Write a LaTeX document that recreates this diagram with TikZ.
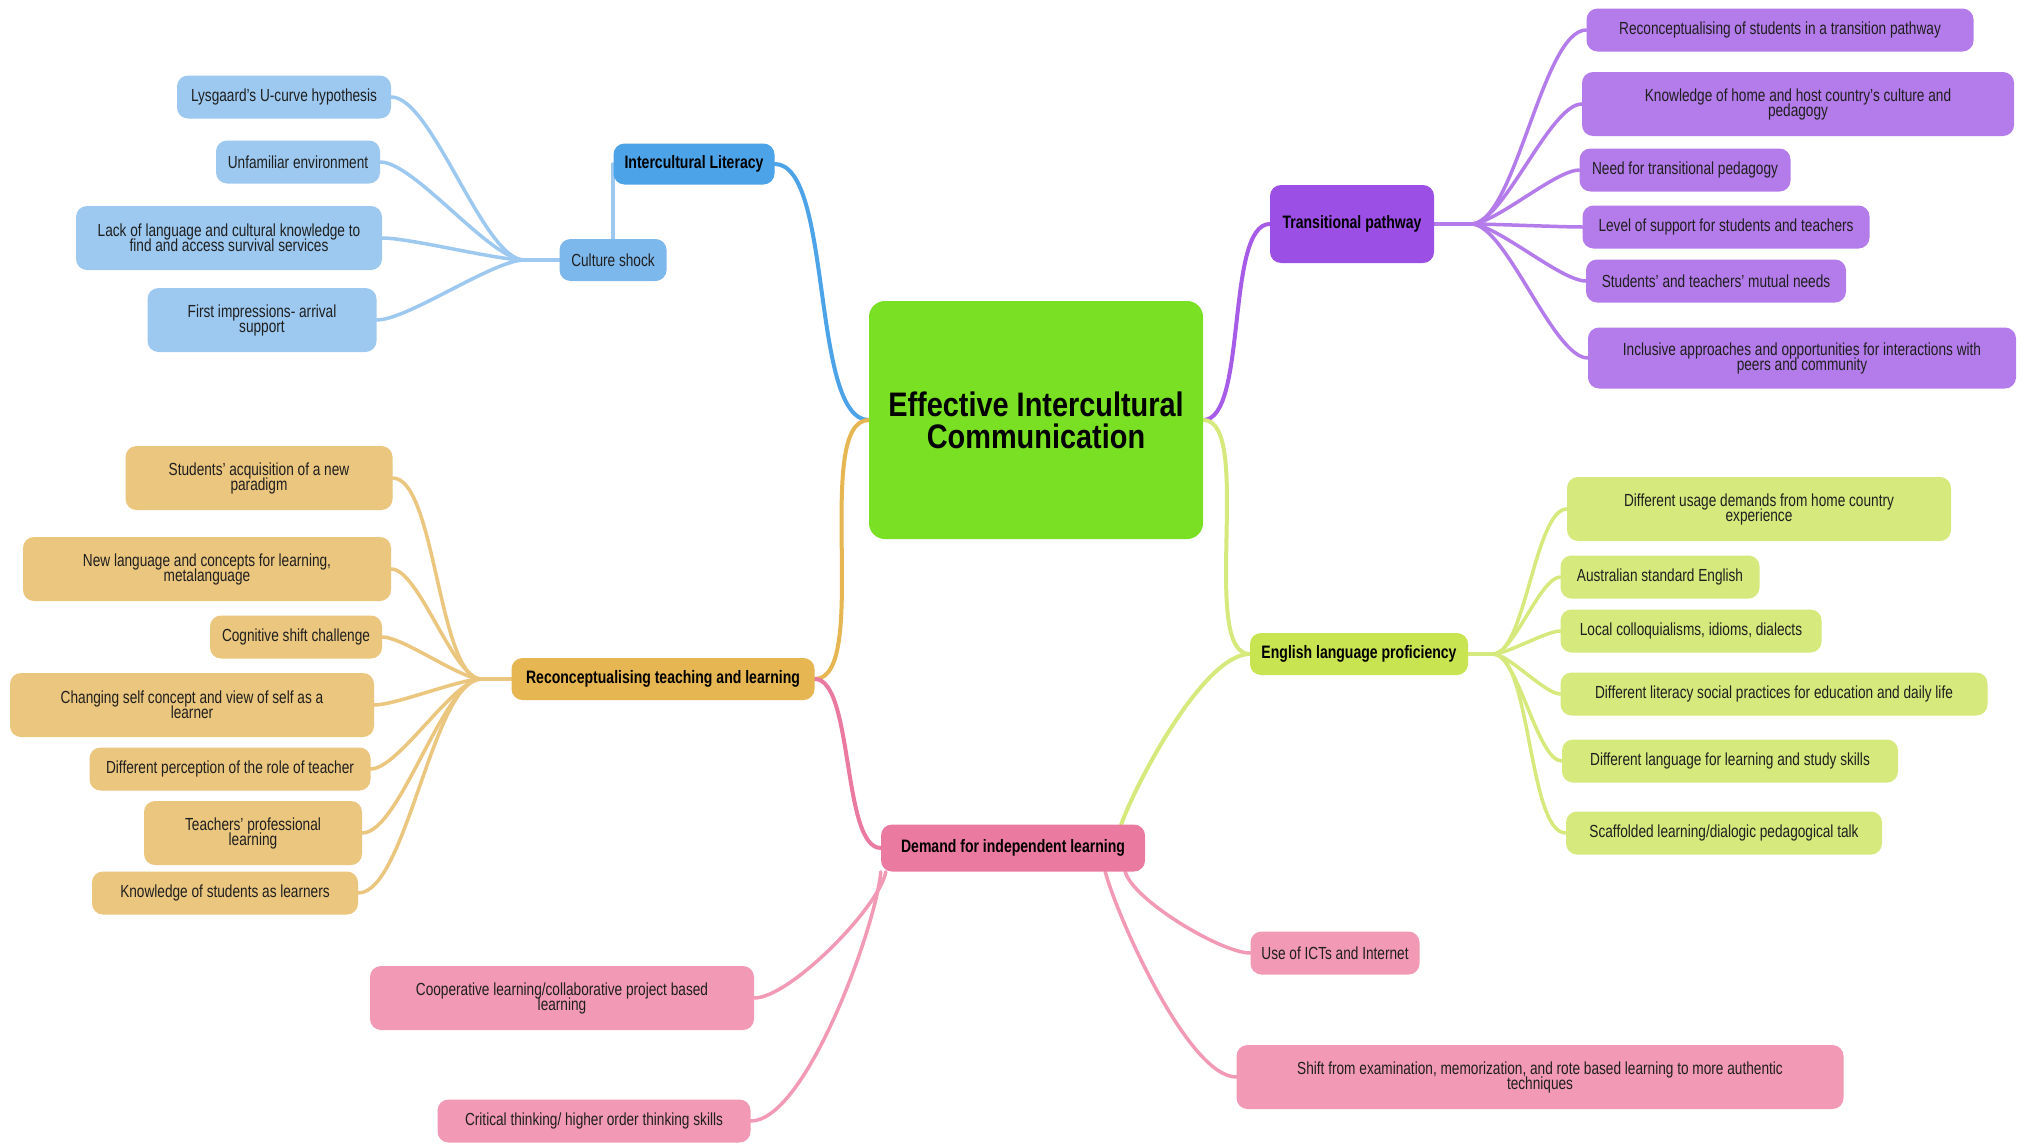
\documentclass[tikz,border=0pt]{standalone}
\usepackage{fontspec}
\setmainfont[FakeStretch=0.78]{Liberation Sans}
\newfontfamily\rootfont[FakeStretch=0.85]{Liberation Sans}
\setlength{\lineskiplimit}{-30pt}

\definecolor{rootG}{HTML}{7AE023}
\definecolor{blueD}{HTML}{4DA3E8}
\definecolor{blueM}{HTML}{7DB8EC}
\definecolor{blueL}{HTML}{9DC9F0}
\definecolor{purpD}{HTML}{9C4FE5}
\definecolor{purpM}{HTML}{A75CE8}
\definecolor{purpL}{HTML}{B47CEA}
\definecolor{oranD}{HTML}{E6B652}
\definecolor{oranL}{HTML}{EBC67E}
\definecolor{grenD}{HTML}{C8E450}
\definecolor{grenL}{HTML}{D6E97C}
\definecolor{pinkD}{HTML}{EA7AA0}
\definecolor{pinkL}{HTML}{F29AB5}

\pgfdeclarelayer{bg}
\pgfsetlayers{bg,main}

\tikzset{
  leaf/.style={rounded corners=11pt, inner sep=0pt, align=center, minimum height=43pt,
    text=black!88, font=\fontsize{17.5}{15}\selectfont},
  tall/.style={minimum height=64pt},
  branch/.style={leaf, text=black, font=\bfseries\fontsize{18}{16}\selectfont},
  rootbox/.style={rounded corners=16pt, inner sep=0pt, align=center, fill=rootG,
    font=\rootfont\bfseries\fontsize{34}{32}\selectfont},
  link/.style={line width=4pt, line cap=round, looseness=0.55},
  twig/.style={line width=3.5pt, line cap=round, looseness=0.5},
}

\begin{document}
\begin{tikzpicture}[x=1pt,y=-1pt]
\useasboundingbox (0,0) rectangle (2028,1143);

\node[rootbox, minimum width=334pt, minimum height=238pt] (eic) at (1036,420) {Effective Intercultural\\Communication};

% intercultural literacy
\node[branch, fill=blueD, minimum width=161pt, minimum height=41pt] (lit) at (694,164) {Intercultural Literacy};
\node[leaf, fill=blueM, minimum width=107pt, minimum height=42pt] (shock) at (613,260) {Culture shock};
\node[leaf, fill=blueL, minimum width=214pt] (ucurve) at (284,97) {Lysgaard's U-curve hypothesis};
\node[leaf, fill=blueL, minimum width=164pt] (unfam) at (298,162) {Unfamiliar environment};
\node[leaf, tall, fill=blueL, minimum width=306pt] (lack) at (229,238) {Lack of language and cultural knowledge to\\find and access survival services};
\node[leaf, tall, fill=blueL, minimum width=229pt] (first) at (262,320) {First impressions- arrival\\support};

% transitional pathway
\node[branch, fill=purpD, minimum width=164pt, minimum height=78pt] (trans) at (1352,224) {Transitional pathway};
\node[leaf, fill=purpL, minimum width=387pt] (recon) at (1780,30) {Reconceptualising of students in a transition pathway};
\node[leaf, tall, fill=purpL, minimum width=432pt] (home) at (1798,104) {Knowledge of home and host country's culture and\\pedagogy};
\node[leaf, fill=purpL, minimum width=211pt] (needs) at (1685,170) {Need for transitional pedagogy};
\node[leaf, fill=purpL, minimum width=287pt] (level) at (1726,227) {Level of support for students and teachers};
\node[leaf, fill=purpL, minimum width=260pt] (mutual) at (1716,281) {Students' and teachers' mutual needs};
\node[leaf, tall, fill=purpL, minimum width=428pt, minimum height=61pt] (incl) at (1802,358) {Inclusive approaches and opportunities for interactions with\\peers and community};

% reconceptualising teaching
\node[branch, fill=oranD, minimum width=303pt, minimum height=42pt] (reteach) at (663,679) {Reconceptualising teaching and learning};
\node[leaf, tall, fill=oranL, minimum width=267pt] (paradigm) at (259,478) {Students' acquisition of a new\\paradigm};
\node[leaf, tall, fill=oranL, minimum width=368pt] (meta) at (207,569) {New language and concepts for learning,\\metalanguage};
\node[leaf, fill=oranL, minimum width=172pt] (cogn) at (296,637) {Cognitive shift challenge};
\node[leaf, tall, fill=oranL, minimum width=364pt] (selfc) at (192,705) {Changing self concept and view of self as a\\learner};
\node[leaf, fill=oranL, minimum width=281pt] (role) at (230,769) {Different perception of the role of teacher};
\node[leaf, tall, fill=oranL, minimum width=218pt] (profl) at (253,833) {Teachers' professional\\learning};
\node[leaf, fill=oranL, minimum width=266pt] (learners) at (225,893) {Knowledge of students as learners};

% english
\node[branch, fill=grenD, minimum width=218pt, minimum height=42pt] (english) at (1359,654) {English language proficiency};
\node[leaf, tall, fill=grenL, minimum width=384pt] (usage) at (1759,509) {Different usage demands from home country\\experience};
\node[leaf, fill=grenL, minimum width=199pt] (austr) at (1660,577) {Australian standard English};
\node[leaf, fill=grenL, minimum width=261pt] (local) at (1691,631) {Local colloquialisms, idioms, dialects};
\node[leaf, fill=grenL, minimum width=427pt] (literacy) at (1774,694) {Different literacy social practices for education and daily life};
\node[leaf, fill=grenL, minimum width=336pt] (study) at (1730,761) {Different language for learning and study skills};
\node[leaf, fill=grenL, minimum width=316pt] (scaff) at (1724,833) {Scaffolded learning/dialogic pedagogical talk};

% independent learning
\node[branch, fill=pinkD, minimum width=264pt, minimum height=47pt] (indep) at (1013,848) {Demand for independent learning};
\node[leaf, fill=pinkL, minimum width=169pt] (icts) at (1335,953) {Use of ICTs and Internet};
\node[leaf, tall, fill=pinkL, minimum width=607pt] (rote) at (1540,1077) {Shift from examination, memorization, and rote based learning to more authentic\\techniques};
\node[leaf, tall, fill=pinkL, minimum width=384pt] (coop) at (562,998) {Cooperative learning/collaborative project based\\learning};
\node[leaf, fill=pinkL, minimum width=313pt] (crit) at (594,1121) {Critical thinking/ higher order thinking skills};

\begin{pgfonlayer}{bg}
\fill[white] (0,0) rectangle (2028,1143);
% main branches
\draw[link, blueD] (eic.west) to[out=180,in=0] (lit.east);
\draw[link, oranD] (eic.west) to[out=180,in=0] (reteach.east);
\draw[link, pinkD] (reteach.east) to[out=0,in=180] (indep.west);
\draw[link, purpM] (eic.east) to[out=0,in=180] (trans.west);
\draw[link, grenL] (eic.east) to[out=0,in=180] (english.west);
\draw[link, grenL] ([xshift=-24pt]indep.north east) to[out=70,in=180] (english.west);

\draw[twig, blueL] (shock.north) -- (shock.north |- lit.center);
\draw[twig, blueL] (shock.west) -- ++(-35,0) to[out=180,in=0] (ucurve.east);
\draw[twig, blueL] (shock.west) -- ++(-35,0) to[out=180,in=0] (unfam.east);
\draw[twig, blueL] (shock.west) -- ++(-35,0) to[out=180,in=0] (lack.east);
\draw[twig, blueL] (shock.west) -- ++(-35,0) to[out=180,in=0] (first.east);

\draw[twig, purpL] (trans.east) -- ++(37,0) to[out=0,in=180] (recon.west);
\draw[twig, purpL] (trans.east) -- ++(37,0) to[out=0,in=180] (home.west);
\draw[twig, purpL] (trans.east) -- ++(37,0) to[out=0,in=180] (needs.west);
\draw[twig, purpL] (trans.east) -- ++(37,0) to[out=0,in=180] (level.west);
\draw[twig, purpL] (trans.east) -- ++(37,0) to[out=0,in=180] (mutual.west);
\draw[twig, purpL] (trans.east) -- ++(37,0) to[out=0,in=180] (incl.west);

\draw[twig, oranL] (reteach.west) -- ++(-30,0) to[out=180,in=0] (paradigm.east);
\draw[twig, oranL] (reteach.west) -- ++(-30,0) to[out=180,in=0] (meta.east);
\draw[twig, oranL] (reteach.west) -- ++(-30,0) to[out=180,in=0] (cogn.east);
\draw[twig, oranL] (reteach.west) -- ++(-30,0) to[out=180,in=0] (selfc.east);
\draw[twig, oranL] (reteach.west) -- ++(-30,0) to[out=180,in=0] (role.east);
\draw[twig, oranL] (reteach.west) -- ++(-30,0) to[out=180,in=0] (profl.east);
\draw[twig, oranL] (reteach.west) -- ++(-30,0) to[out=180,in=0] (learners.east);

\draw[twig, grenL] (english.east) -- ++(25,0) to[out=0,in=180] (usage.west);
\draw[twig, grenL] (english.east) -- ++(25,0) to[out=0,in=180] (austr.west);
\draw[twig, grenL] (english.east) -- ++(25,0) to[out=0,in=180] (local.west);
\draw[twig, grenL] (english.east) -- ++(25,0) to[out=0,in=180] (literacy.west);
\draw[twig, grenL] (english.east) -- ++(25,0) to[out=0,in=180] (study.west);
\draw[twig, grenL] (english.east) -- ++(25,0) to[out=0,in=180] (scaff.west);

\draw[twig, pinkL] ([xshift=5pt]indep.south west) to[out=-100,in=0] (coop.east);
\draw[twig, pinkL] (indep.south west) to[out=-95,in=0] (crit.east);
\draw[twig, pinkL] ([xshift=-20pt]indep.south east) to[out=-75,in=180] (icts.west);
\draw[twig, pinkL] ([xshift=-40pt]indep.south east) to[out=-75,in=180] (rote.west);
\end{pgfonlayer}
\end{tikzpicture}
\end{document}
